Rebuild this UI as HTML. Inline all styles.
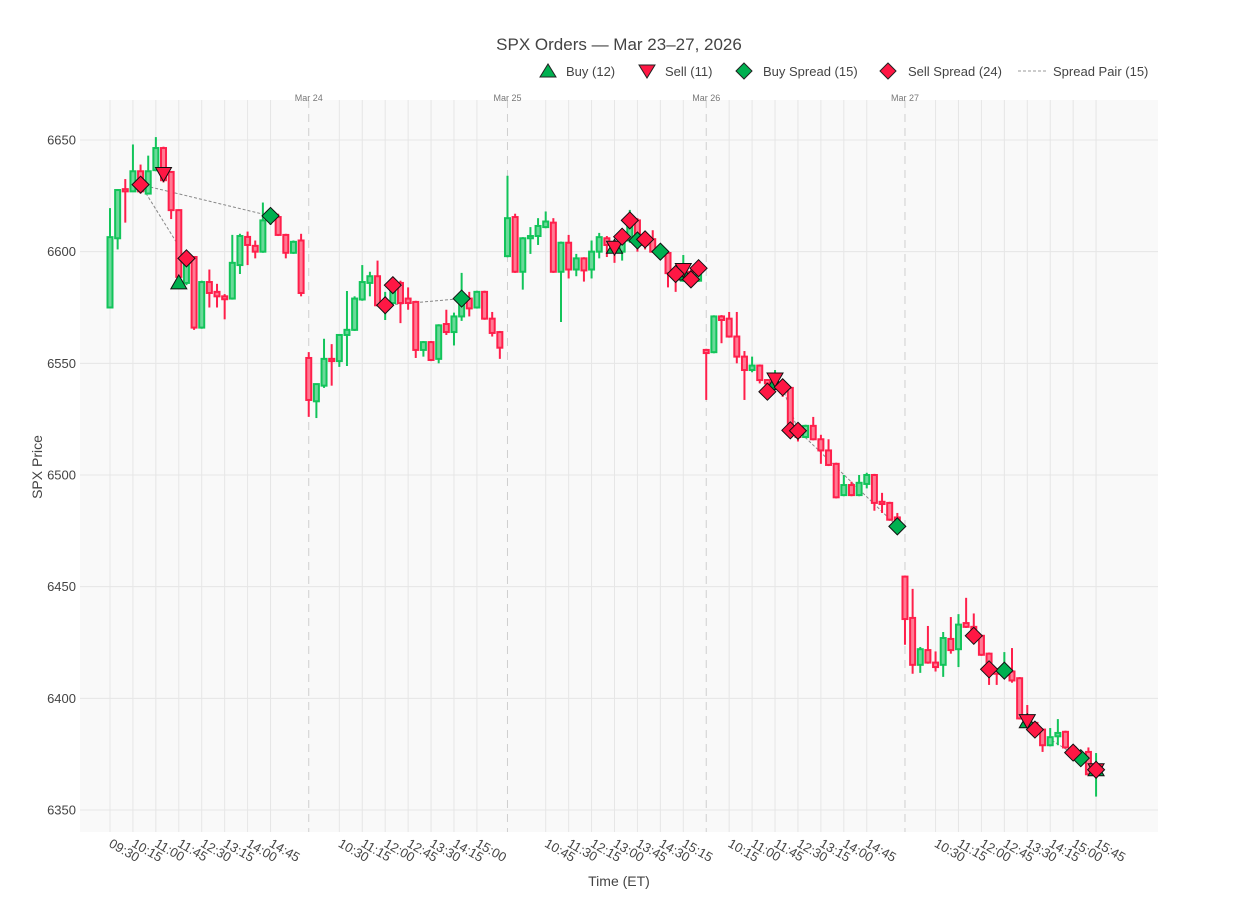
<!DOCTYPE html>
<html><head><meta charset="utf-8"><style>
html,body{margin:0;padding:0;background:#fff;}
svg{display:block;font-family:"Liberation Sans",Arial,sans-serif;}
</style></head><body>
<svg id="chart" width="1238" height="912" viewBox="0 0 1238 912">
<rect x="0" y="0" width="1238" height="912" fill="#fff"/>
<rect x="80" y="100" width="1078" height="732" fill="#f9f9f9"/>
<g id="grid"></g><g id="seps"></g><g id="pairs"></g><g id="candles"></g><g id="markers"></g><g id="axes"></g>
<text x="619" y="50" text-anchor="middle" font-size="17" fill="#444">SPX Orders — Mar 23–27, 2026</text>
<text x="619" y="886" text-anchor="middle" font-size="14" fill="#444">Time (ET)</text>
<text x="42" y="467" text-anchor="middle" font-size="14" fill="#444" transform="rotate(-90 42 467)">SPX Price</text>
<g font-size="13" fill="#444">
 <g><path d="M540,77 L548,64 L556,77 Z" fill="#00b050" stroke="#222" stroke-width="1"/><text x="566" y="76">Buy (12)</text></g>
 <g><path d="M639,65 L655,65 L647,78 Z" fill="#ff1744" stroke="#222" stroke-width="1"/><text x="665" y="76">Sell (11)</text></g>
 <g><path d="M744,63 L752,71 L744,79 L736,71 Z" fill="#00b050" stroke="#222" stroke-width="1"/><text x="763" y="76">Buy Spread (15)</text></g>
 <g><path d="M888,63 L896,71 L888,79 L880,71 Z" fill="#ff1744" stroke="#222" stroke-width="1"/><text x="908" y="76">Sell Spread (24)</text></g>
 <g><line x1="1018" y1="71" x2="1046" y2="71" stroke="#999" stroke-dasharray="3,2"/><text x="1053" y="76">Spread Pair (15)</text></g>
</g>
</svg>
<script>
const opens=[6575,6606,6628,6627,6636,6626,6636.5,6646.4,6635.7,6618.6,6586,6597.6,6566,6586.4,6582,6580,6579,6594,6606.6,6602.6,6600,6614,6615.5,6607.5,6599.5,6605,
6552.4,6533,6540,6552,6551,6562.7,6565,6578.6,6586,6589,6576,6577,6586,6579,6577.5,6556,6559.5,6552,6567.6,6564,6571,6579,6575,6582,6570,6564,
6598,6615.5,6591,6606,6607,6611,6613,6591,6604,6592,6597,6592,6600,6606,6603,6600,6605,6614,6604,6605.6,6602,6599.4,6590,6587,6591,6587,
6556,6555,6571,6570,6562,6553,6547,6549,6542.5,6539,6541,6539,6520,6517,6522,6516,6511,6505,6491,6495.5,6491,6496,6500,6488,6487.5,6481,
6454.5,6436,6415,6421.6,6416,6415,6426.6,6422,6433.7,6432,6428,6420,6413,6411,6412,6409,6391,6389,6386,6379,6383,6385,6378,6373,6376,6367];
const closes=[6606.5,6627.6,6627,6636,6627,6636,6646.4,6632,6618.6,6588.7,6599,6566,6586.4,6581.5,6580,6578.7,6595,6607,6603,6600,6614,6616,6607.5,6599.5,6604.4,6581.5,
6533.6,6540.7,6552,6551,6562.7,6565,6579,6586.4,6589,6576,6578,6583,6577,6577,6556,6559.5,6551.5,6567,6564,6571,6576,6574.6,6582,6570,6563.6,6557,
6615,6591,6606,6607,6611.5,6613.5,6591,6604,6592,6597,6591.6,6600,6606.5,6603,6600,6607,6614,6604,6603,6600,6599,6590.4,6588,6591,6587,6592,
6554.6,6571,6569.4,6562,6553,6547,6549,6542.5,6541,6541,6537,6520,6517,6522,6516,6511,6504.5,6490,6495.5,6491,6496.5,6500,6487.5,6487,6480,6478,
6435.5,6415,6422,6416,6414,6427,6421.6,6433,6432,6428,6419.5,6412.7,6411,6413,6408,6391,6388,6385,6379,6382.6,6384.5,6378,6375,6375,6366,6368];
const highs=[6619.5,6628,6632.5,6648,6639,6643,6651.3,6647,6636,6619,6600,6598,6587,6592,6585.6,6581,6607.5,6608,6609,6605,6622,6618,6617,6608,6605,6608,
6555,6541,6561,6558.6,6563,6582.4,6580,6594,6591,6596,6582,6584,6587,6584,6578,6560,6560,6567.5,6574,6572.7,6590.5,6582,6582.5,6582.5,6573,6564.5,
6634,6617,6606.5,6611,6615,6618,6615,6604.5,6607.5,6599,6597.5,6605,6608.4,6607,6604,6608,6618.7,6615,6605,6609.6,6603,6600,6591,6598.5,6592,6596,
6556.5,6571.5,6571.6,6573,6573,6555.5,6553,6549.5,6543,6547,6542,6539.5,6520.5,6522.5,6526,6518,6516,6505.5,6500,6497,6500,6501,6500.5,6492,6488,6483,
6455,6449,6423,6432.4,6421,6429.7,6436.4,6437.7,6445,6438,6428.5,6420.5,6413.5,6420.7,6422.5,6409.5,6397,6389.5,6386.5,6386.7,6390.7,6385.5,6378.5,6375.5,6378,6375.5];
const lows=[6575,6601,6613,6627,6626,6626,6636,6631,6614.6,6586,6585,6565,6565.5,6575,6575,6569.7,6578.5,6590,6594,6597,6599.5,6612,6607,6597,6599,6580,
6526,6525.5,6539,6540,6548.4,6548.8,6564.5,6578,6580,6575.5,6569.4,6576,6568,6574,6552.4,6553,6551,6550,6562.7,6558,6569,6571,6574.5,6569.5,6562,6552,
6597.5,6590.5,6583,6599,6603,6610.5,6590.5,6568.5,6588,6589,6586.6,6588,6597,6597.6,6595,6596,6604,6600,6601,6599.5,6597,6584,6582,6586.5,6584,6586.5,
6533.6,6554.5,6559,6561.5,6550,6533.6,6546,6541,6538,6538,6535,6519,6515,6516.5,6515.5,6505,6504,6489.5,6490.5,6490.5,6490.5,6494,6484,6483,6479.5,6477,
6424,6411,6411.4,6415.5,6412,6409.6,6420,6414,6431.5,6427,6419,6406,6406,6410.5,6407,6390.5,6387,6384,6376,6378.5,6379,6377.5,6374,6372,6365.5,6356];
const yTicks=[6350,6400,6450,6500,6550,6600,6650];
const xTickIdx=[0,3,6,9,12,15,18,21,30,33,36,39,42,45,48,57,60,63,66,69,72,75,81,84,87,90,93,96,99,108,111,114,117,120,123,126,129];
const xTickLabels=["09:30","10:15","11:00","11:45","12:30","13:15","14:00","14:45","10:30","11:15","12:00","12:45","13:30","14:15","15:00","10:45","11:30","12:15","13:00","13:45","14:30","15:15","10:15","11:00","11:45","12:30","13:15","14:00","14:45","10:30","11:15","12:00","12:45","13:30","14:15","15:00","15:45"];
const dayIdx=[26,52,78,104];
const dayLabels=["Mar 24","Mar 25","Mar 26","Mar 27"];
const buyIdx=[9,66,75,87,120,129];
const buyPx=[6586,6602,6590,6541,6389.5,6368];
const sellIdx=[7,66,75,87,120,129];
const sellPx=[6635,6602,6592,6543,6390,6368];
const buySpreadIdx=[21,46,69,72,103,117,127];
const buySpreadPx=[6616,6579,6605,6600,6477,6412.4,6373.2];
const sellSpreadIdx=[4,10,36,37,67,68,70,74,76,77,86,88,89,90,113,115,121,126,129];
const sellSpreadPx=[6630,6597,6576,6585,6606.7,6614,6605.5,6590,6587.6,6592.6,6537.3,6539.3,6520,6519.8,6428,6413,6386,6375.7,6368];
const pairFromIdx=[4,4,36,88,90,115,121];
const pairFromPx=[6630,6630,6576,6539,6520,6413,6386];
const pairToIdx=[21,10,46,90,103,117,127];
const pairToPx=[6616,6597,6579,6520,6477,6412.4,6373];

const NS="http://www.w3.org/2000/svg";
const X=i=>110+i*7.644;
const Y=p=>140+(6650-p)*2.2333;
function mk(parent,tag,attrs){const e=document.createElementNS(NS,tag);for(const k in attrs)e.setAttribute(k,attrs[k]);document.getElementById(parent).appendChild(e);return e;}

yTicks.forEach(v=>{
  const l=mk('grid','line',{x1:80,x2:1158,y1:Y(v),y2:Y(v),stroke:'#e6e6e6','stroke-width':1});
  
  
  const t=mk('axes','text',{x:76,y:Y(v)+4.5,'text-anchor':'end','font-size':13,fill:'#444'});
  t.textContent=v;
  
  
});
xTickIdx.forEach((i,k)=>{
  const l=mk('grid','line',{x1:X(i),x2:X(i),y1:100,y2:832,stroke:'#e6e6e6','stroke-width':1});
  
  
  const x=X(i)-2,y=846;
  const t=mk('axes','text',{x:x,y:y,'font-size':13,fill:'#444',transform:`rotate(30 ${x} ${y})`});
  t.textContent=xTickLabels[k];
  
  
});
dayIdx.forEach((i,k)=>{
  const l=mk('seps','line',{x1:X(i),x2:X(i),y1:100,y2:832,stroke:'#cfcfcf','stroke-width':1,'stroke-dasharray':'8,6'});
  
  
  const t=mk('seps','text',{x:X(i),y:101,'text-anchor':'middle','font-size':9,fill:'#777'});
  t.textContent=dayLabels[k];
  
  
});
pairFromIdx.forEach((a,k)=>{
  const l=mk('pairs','line',{x1:X(a),y1:Y(pairFromPx[k]),x2:X(pairToIdx[k]),y2:Y(pairToPx[k]),stroke:'#888','stroke-width':1,'stroke-dasharray':'3,2'});
  
  
});
opens.forEach((o,i)=>{
  const c=closes[i],up=c>=o,col=up?'#12c45a':'#ff1f4b',fill=up?'#6ad999':'#ff7a93';
  const x=X(i);
  const w=mk('candles','line',{x1:x,x2:x,y1:Y(highs[i]),y2:Y(lows[i]),stroke:col,'stroke-width':2});
  
  
  const top=Y(Math.max(o,c)),bot=Y(Math.min(o,c));
  const r=mk('candles','rect',{x:x-2.5,y:top,width:5,height:Math.max(1.5,bot-top),fill:fill,stroke:col,'stroke-width':2});
  
  
});
function tri(i,p,upw,col,name){
  const x=X(i),y=Y(p);
  const d=upw?`M${x-8},${y+6} L${x},${y-8} L${x+8},${y+6} Z`:`M${x-8},${y-6} L${x+8},${y-6} L${x},${y+8} Z`;
  const e=mk('markers','path',{d:d,fill:col,stroke:'#111','stroke-width':1});
  
  
}
function dia(i,p,col,name){
  const x=X(i),y=Y(p);
  const e=mk('markers','path',{d:`M${x},${y-8.5} L${x+8.5},${y} L${x},${y+8.5} L${x-8.5},${y} Z`,fill:col,stroke:'#111','stroke-width':1});
  
  
}
buyIdx.forEach((i,k)=>tri(i,buyPx[k],true,'#00b050','buy-marker'));
sellIdx.forEach((i,k)=>tri(i,sellPx[k],false,'#ff1744','sell-marker'));
buySpreadIdx.forEach((i,k)=>dia(i,buySpreadPx[k],'#00b050','buy-spread-marker'));
sellSpreadIdx.forEach((i,k)=>dia(i,sellSpreadPx[k],'#ff1744','sell-spread-marker'));
</script>
</body></html>
